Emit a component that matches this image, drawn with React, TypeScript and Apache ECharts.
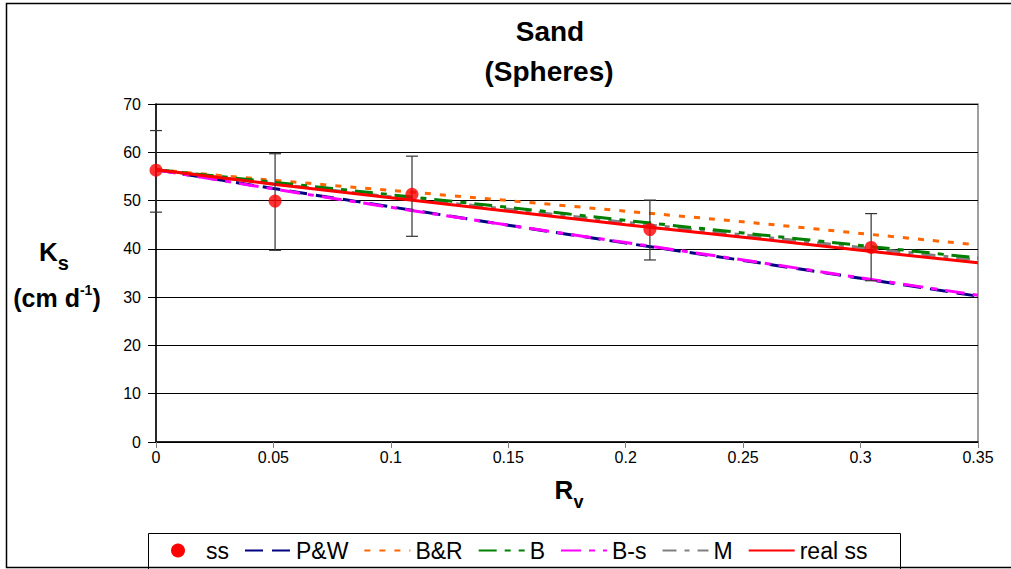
import React, { useEffect, useRef } from "react";
import * as echarts from "echarts";

const xTicks = [0, 0.05, 0.1, 0.15, 0.2, 0.25, 0.3, 0.35];
const pwValues = [56.4, 52.5, 48.7, 44.9, 41.2, 37.6, 33.9, 30.2];
const brValues = [56.4, 54.2, 52.1, 50.0, 47.8, 45.6, 43.2, 40.8];
const bValues = [56.4, 53.8, 51.2, 48.6, 45.9, 43.3, 40.7, 38.1];
const bsValues = [56.4, 52.4, 48.6, 44.9, 41.3, 37.7, 34.0, 30.4];
const mValues = [56.4, 53.5, 50.8, 48.2, 45.5, 42.9, 40.3, 37.7];
const realValues = [56.4, 53.4, 50.6, 47.8, 45.0, 42.4, 39.7, 37.1];

const ssX = [0, 0.0507, 0.109, 0.2103, 0.3045];
const ssY = [56.3, 49.9, 51.3, 44.0, 40.3];
const errLow = [47.6, 39.7, 42.6, 37.7, 33.4];
const errHigh = [64.5, 59.7, 59.2, 50.1, 47.3];

const legendNames = ["ss", "P&W", "B&R", "B", "B-s", "M", "real ss"];

export default function App() {
  const ref = useRef<HTMLDivElement>(null);
  useEffect(() => {
    const chart = echarts.init(ref.current!, null, { renderer: "svg" });
    const font = "'Liberation Sans', Arial, sans-serif";
    const lineSeries = (name: string, vals: number[], color: string, type: any, z: number) => ({
      name,
      type: "line",
      data: xTicks.map((x, i) => [x, vals[i]]),
      smooth: 0.3,
      symbol: "none",
      z,
      lineStyle: { color, width: 3, type },
      itemStyle: { color },
    });
    chart.setOption({
      animation: false,
      textStyle: { fontFamily: font },
      grid: {
        left: 156,
        top: 104,
        width: 822,
        height: 338,
        show: true,
        borderColor: "#808080",
        borderWidth: 1.5,
        backgroundColor: "transparent",
      },
      xAxis: {
        type: "value",
        min: 0,
        max: 0.35,
        interval: 0.05,
        axisLine: { show: true, onZero: false, lineStyle: { color: "#000", width: 1.5 } },
        axisTick: { show: true, inside: false, length: 6, lineStyle: { color: "#808080" } },
        splitLine: { show: false },
        axisLabel: { color: "#000", fontSize: 16, margin: 7, fontFamily: font },
      },
      yAxis: {
        type: "value",
        min: 0,
        max: 70,
        interval: 10,
        axisLine: { show: true, lineStyle: { color: "#000", width: 1.5 } },
        axisTick: { show: true, inside: false, length: 8, lineStyle: { color: "#000" } },
        splitLine: { show: true, lineStyle: { color: "#000", width: 1 } },
        axisLabel: { color: "#000", fontSize: 16, margin: 15, fontFamily: font },
      },
      legend: {
        data: legendNames.map((n) =>
          n === "ss"
            ? { name: n, icon: "circle", itemStyle: { opacity: 1, color: "#FF0000" } }
            : { name: n }
        ),
        left: 171,
        top: 539,
        itemWidth: 46,
        itemHeight: 14,
        itemGap: 15,
        padding: 0,
        itemStyle: { opacity: 0 },
        textStyle: { fontSize: 23, color: "#000", fontFamily: font },
      },
      graphic: [
        {
          type: "rect",
          silent: true,
          shape: { x: 6.5, y: 3.5, width: 1010, height: 564 },
          style: { fill: "none", stroke: "#000", lineWidth: 1.5 },
          z: -10,
        },
        {
          type: "rect",
          silent: true,
          shape: { x: 148.5, y: 533.5, width: 752, height: 40 },
          style: { fill: "none", stroke: "#000", lineWidth: 1 },
          z: -10,
        },
        {
          type: "text",
          x: 550,
          y: 31,
          style: { text: "Sand", font: `bold 28px ${font}`, fill: "#000", textAlign: "center", textVerticalAlign: "middle" },
        },
        {
          type: "text",
          x: 549,
          y: 71,
          style: { text: "(Spheres)", font: `bold 28px ${font}`, fill: "#000", textAlign: "center", textVerticalAlign: "middle" },
        },
        {
          type: "text",
          x: 54,
          y: 256,
          style: {
            text: "{a|K}{b|s}",
            textAlign: "center",
            textVerticalAlign: "middle",
            rich: {
              a: { fontSize: 26, fontWeight: "bold", fontFamily: font, lineHeight: 34, verticalAlign: "top", fill: "#000" },
              b: { fontSize: 20, fontWeight: "bold", fontFamily: font, lineHeight: 20, verticalAlign: "bottom", fill: "#000" },
            },
          },
        },
        {
          type: "text",
          x: 57,
          y: 298,
          style: {
            text: "{a|(cm d}{b|-1}{a|)}",
            textAlign: "center",
            textVerticalAlign: "middle",
            rich: {
              a: { fontSize: 25, fontWeight: "bold", fontFamily: font, lineHeight: 30, fill: "#000" },
              b: { fontSize: 14, fontWeight: "bold", fontFamily: font, lineHeight: 14, verticalAlign: "top", fill: "#000" },
            },
          },
        },
        {
          type: "text",
          x: 569,
          y: 494,
          style: {
            text: "{a|R}{b|v}",
            textAlign: "center",
            textVerticalAlign: "middle",
            rich: {
              a: { fontSize: 26, fontWeight: "bold", fontFamily: font, lineHeight: 34, verticalAlign: "top", fill: "#000" },
              b: { fontSize: 18, fontWeight: "bold", fontFamily: font, lineHeight: 18, verticalAlign: "bottom", fill: "#000" },
            },
          },
        },
      ],
      series: [
        lineSeries("P&W", pwValues, "#000080", [18, 9], 3),
        lineSeries("B&R", brValues, "#FF6600", [6, 9], 3),
        lineSeries("M", mValues, "#808080", [14, 8, 5, 8], 2),
        lineSeries("B", bValues, "#008000", [18, 8, 6, 8], 3),
        lineSeries("B-s", bsValues, "#FF00FF", [20, 8, 6, 8], 4),
        lineSeries("real ss", realValues, "#FF0000", "solid", 5),
        {
          type: "custom",
          name: "err",
          silent: true,
          z: 6,
          data: ssX.map((x, i) => [x, errLow[i], errHigh[i]]),
          encode: { x: 0, y: [1, 2] },
          renderItem: (params: any, api: any) => {
            const x = api.value(0);
            const lo = api.coord([x, api.value(1)]);
            const hi = api.coord([x, api.value(2)]);
            const hw = 6;
            const style = { stroke: "#333", lineWidth: 1.2 };
            return {
              type: "group",
              children: [
                { type: "line", shape: { x1: lo[0], y1: lo[1], x2: hi[0], y2: hi[1] }, style },
                { type: "line", shape: { x1: lo[0] - hw, y1: lo[1], x2: lo[0] + hw, y2: lo[1] }, style },
                { type: "line", shape: { x1: hi[0] - hw, y1: hi[1], x2: hi[0] + hw, y2: hi[1] }, style },
              ],
            };
          },
        },
        {
          name: "ss",
          type: "scatter",
          data: ssX.map((x, i) => [x, ssY[i]]),
          symbolSize: 13,
          z: 10,
          itemStyle: { color: "#FF0000" },
        },
      ],
    });
    return () => chart.dispose();
  }, []);
  return (
    <div
      ref={ref}
      style={{ position: "fixed", left: 0, top: 0, width: 1011, height: 569, background: "#fff" }}
    />
  );
}
